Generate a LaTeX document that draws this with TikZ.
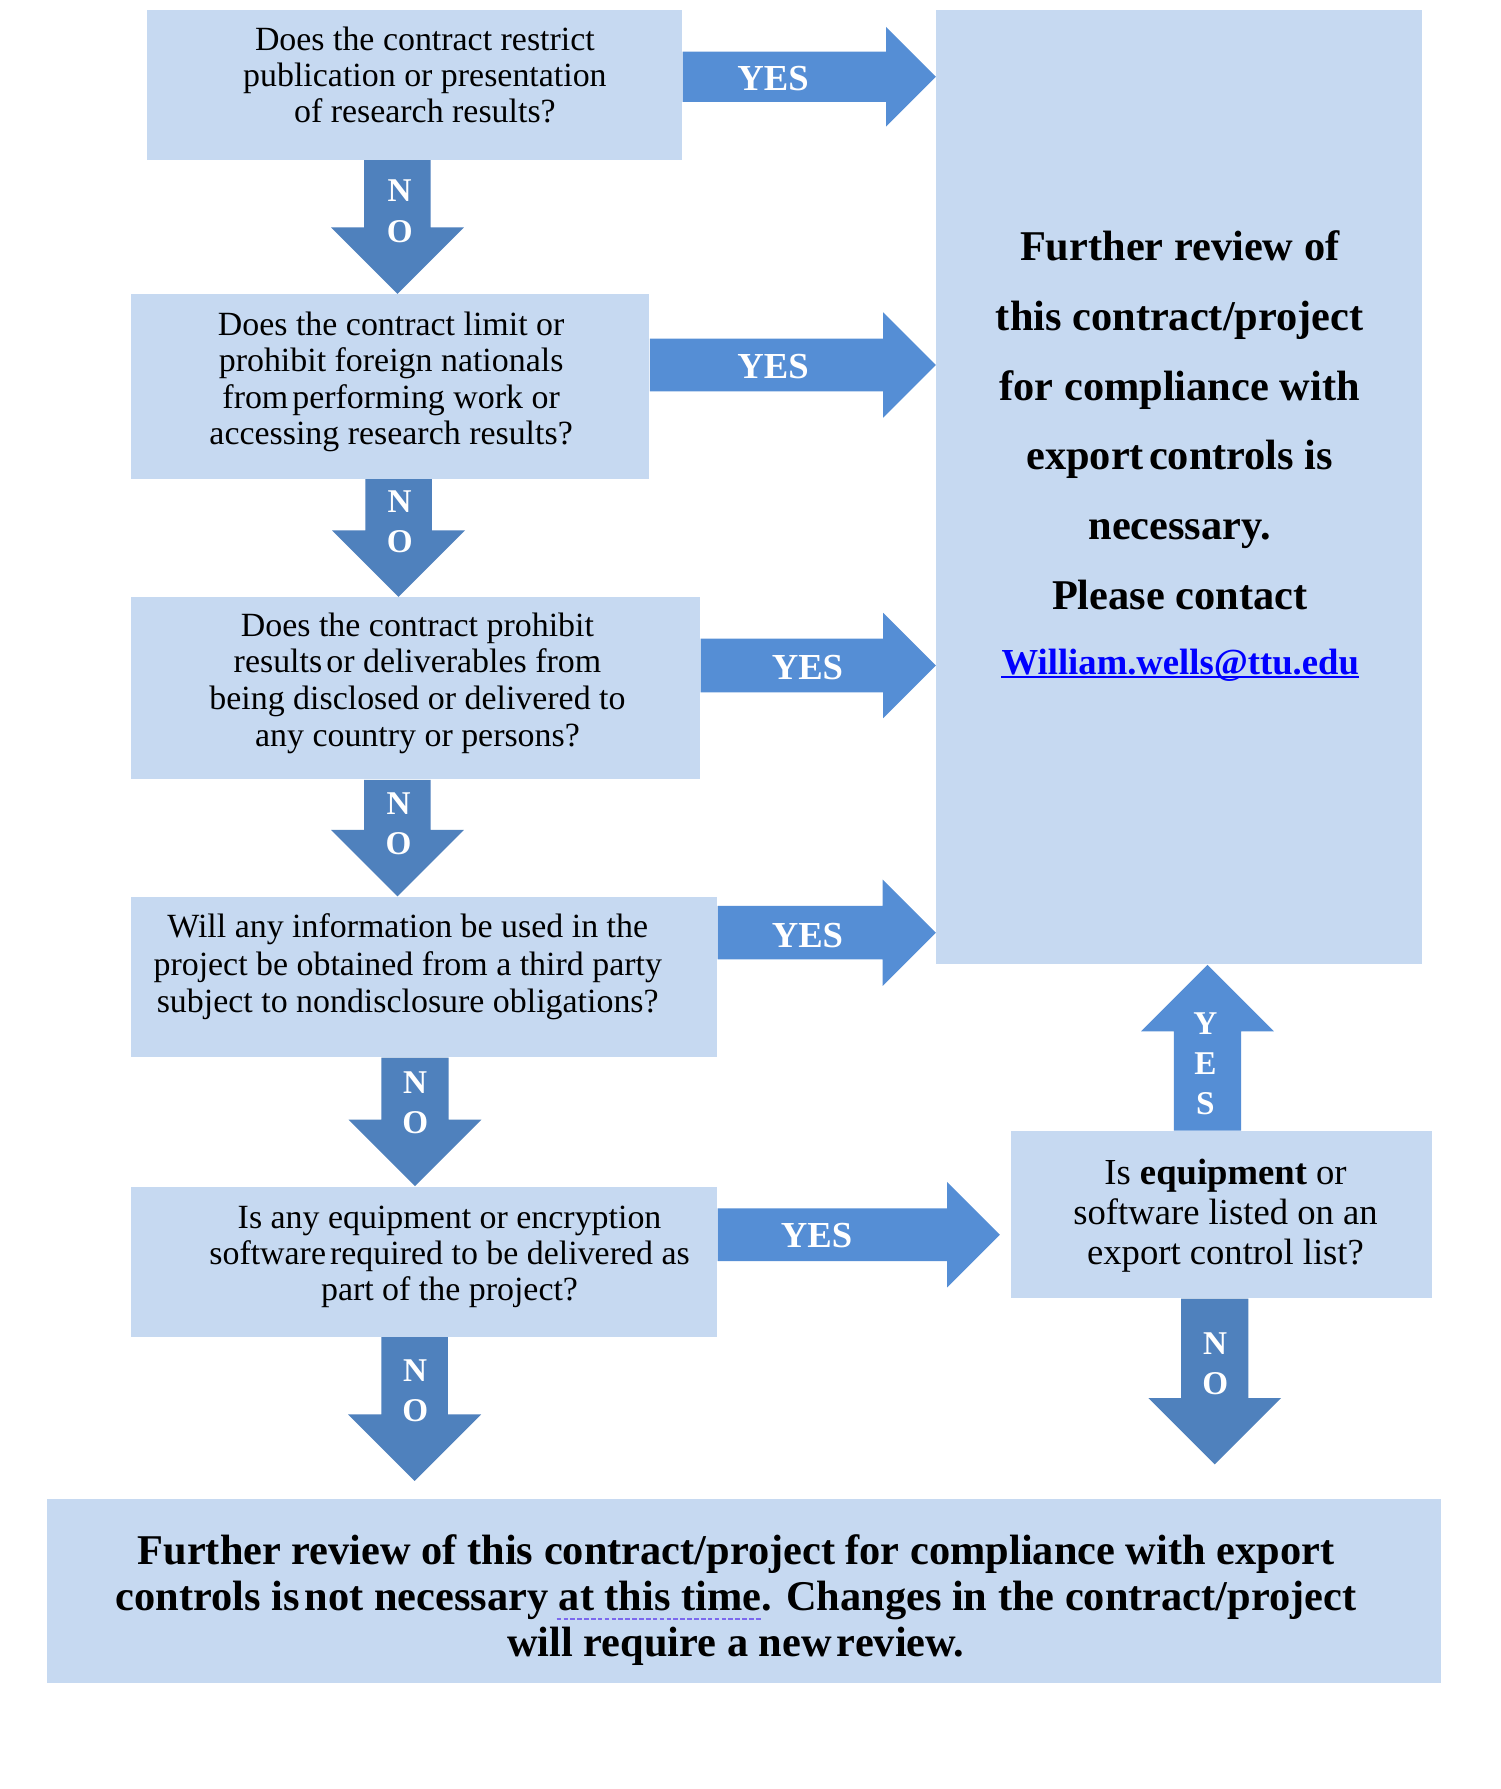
\documentclass[tikz,border=0pt]{standalone}
\usepackage{fontspec}
\setmainfont{Liberation Serif}
\usetikzlibrary{fit,calc}
\definecolor{boxc}{HTML}{C6D9F1}
\definecolor{yesc}{HTML}{558ED5}
\definecolor{noc}{HTML}{4F81BD}
\definecolor{linkc}{HTML}{0000FF}
\definecolor{dotc}{HTML}{7B68EE}
% horizontal block arrow: start, tip, shaft half, head half (=head length), style
\newcommand{\rarr}[5]{%
 \fill[#5] let \p1=(#1), \p2=(#2) in
 ({\x1},{\y1+(#3)*0.5pt}) -- ({\x2-(#4)*0.5pt},{\y1+(#3)*0.5pt}) -- ({\x2-(#4)*0.5pt},{\y1+(#4)*0.5pt}) -- ({\x2},{\y1})
 -- ({\x2-(#4)*0.5pt},{\y1-(#4)*0.5pt}) -- ({\x2-(#4)*0.5pt},{\y1-(#3)*0.5pt}) -- ({\x1},{\y1-(#3)*0.5pt}) -- cycle;}
% downward block arrow
\newcommand{\darr}[5]{%
 \fill[#5] let \p1=(#1), \p2=(#2) in
 ({\x1-(#3)*0.5pt},{\y1}) -- ({\x1-(#3)*0.5pt},{\y2+(#4)*0.5pt}) -- ({\x1-(#4)*0.5pt},{\y2+(#4)*0.5pt}) -- ({\x1},{\y2})
 -- ({\x1+(#4)*0.5pt},{\y2+(#4)*0.5pt}) -- ({\x1+(#3)*0.5pt},{\y2+(#4)*0.5pt}) -- ({\x1+(#3)*0.5pt},{\y1}) -- cycle;}
% upward block arrow
\newcommand{\uarr}[5]{%
 \fill[#5] let \p1=(#1), \p2=(#2) in
 ({\x1-(#3)*0.5pt},{\y1}) -- ({\x1-(#3)*0.5pt},{\y2-(#4)*0.5pt}) -- ({\x1-(#4)*0.5pt},{\y2-(#4)*0.5pt}) -- ({\x1},{\y2})
 -- ({\x1+(#4)*0.5pt},{\y2-(#4)*0.5pt}) -- ({\x1+(#3)*0.5pt},{\y2-(#4)*0.5pt}) -- ({\x1+(#3)*0.5pt},{\y1}) -- cycle;}
\newcommand{\tsp}{\hspace{0.12em}}
\begin{document}
\begin{tikzpicture}[x=0.5pt,y=-0.5pt,
  qbox/.style={fill=boxc, draw=none, inner sep=0pt},
  qtext/.style={inner sep=0pt, align=center, anchor=north, font=\fontsize{14.8pt}{#1pt}\selectfont},
  yeslab/.style={text=white, inner sep=0pt, font=\fontsize{16pt}{18pt}\selectfont\bfseries},
  nolab/.style={text=white, inner sep=0pt, align=center, font=\fontsize{14.5pt}{#1pt}\selectfont\bfseries}]
\fill[white] (0,0) rectangle (1310,1562);
\path[use as bounding box] (0,0) rectangle (1310,1562);

% boxes
\node[qbox, fit={(128,8.4) (595.6,139.5)}] (b1) {};
\node[qbox, fit={(114.4,257) (567,418)}] (b2) {};
\node[qbox, fit={(114.4,521.5) (611.4,680.5)}] (b3) {};
\node[qbox, fit={(114.4,783) (626.2,923)}] (b4) {};
\node[qbox, fit={(114.4,1036) (626.2,1167)}] (b5) {};
\node[qbox, fit={(817.5,8.4) (1241.7,842)}] (R) {};
\node[qbox, fit={(883,987.5) (1250.7,1133.4)}] (b6) {};
\node[qbox, fit={(41,1308.5) (1258,1469)}] (bot) {};

% connector end points
\coordinate (b6w) at ([xshift=-4.8pt]b6.west);
\coordinate (n5t) at (362,1293);
\coordinate (n6t) at (1060.6,1278.6);

% YES arrows
\rarr{b1.east |- 0,67}{R.west |- 0,67}{22}{43.5}{yesc}
\rarr{b2.east |- 0,318.7}{R.west |- 0,318.7}{23}{46}{yesc}
\rarr{b3.east |- 0,581}{R.west |- 0,581}{23.5}{46}{yesc}
\rarr{b4.east |- 0,814.3}{R.west |- 0,814.3}{23.3}{46.4}{yesc}
\rarr{b5.east |- 0,1078}{b6w |- 0,1078}{23}{46}{yesc}
\uarr{b6.north -| 1054.3,0}{R.south -| 1054.3,0}{29.3}{58}{yesc}

% NO arrows
\darr{b1.south -| 347,0}{b2.north -| 347,0}{29}{58}{noc}
\darr{b2.south -| 348,0}{b3.north -| 348,0}{29}{58}{noc}
\darr{b3.south -| 347,0}{b4.north -| 347,0}{29}{58}{noc}
\darr{b4.south -| 362.3,0}{b5.north -| 362.3,0}{29.3}{58}{noc}
\darr{b5.south -| 362,0}{n5t}{29}{58}{noc}
\darr{b6.south -| 1060.6,0}{n6t}{29.4}{58}{noc}

% arrow labels
\node[yeslab] (l1) at (675,68.5) {YES};
\node[yeslab] (l2) at (675,320) {YES};
\node[yeslab] (l3) at (705,582.6) {YES};
\node[yeslab] (l4) at (705,816.5) {YES};
\node[yeslab] (l5) at (713,1079) {YES};
\node[nolab=17.4] (lu) at (1052.5,928.75) {Y\\E\\S};
\node[nolab=17.5] (n1) at (349,184.5) {N\\O};
\node[nolab=17.5] (n2) at (349,455.5) {N\\O};
\node[nolab=17.5] (n3) at (348,719) {N\\O};
\node[nolab=17.5] (n4) at (362.5,962.7) {N\\O};
\node[nolab=17.5] (n5) at (362.5,1214) {N\\O};
\node[nolab=17.5] (n6) at (1061,1191) {N\\O};

% question texts
\node[qtext=15.75] (t1) at (371,21.45) {\strut Does the contract restrict\\publication or presentation\\of research results?};
\node[qtext=15.9] (t2) at (341.5,270.3) {\strut Does the contract limit or\\prohibit foreign nationals\\from\tsp performing work or\\accessing research results?};
\node[qtext=16] (t3) at (364.5,532.6) {\strut Does the contract prohibit\\results\tsp or deliverables from\\being disclosed or delivered to\\any country or persons?};
\node[qtext=16.3] (t4) at (356,795.5) {\strut Will any information be used in the\\project be obtained from a third party\\subject to nondisclosure obligations?};
\node[qtext=15.6] (t5) at (392.5,1050.8) {\strut Is any equipment or encryption\\software\tsp required to be delivered as\\part of the project?};
\node[inner sep=0pt, align=center, anchor=north, font=\fontsize{16pt}{17.35pt}\selectfont] (t6) at (1070,1009.7) {\strut Is \textbf{equipment} or\\software listed on an\\export control list?};

% result texts
\node[inner sep=0pt, align=center, anchor=north, font=\fontsize{18.5pt}{30.4pt}\selectfont\bfseries] (tr) at (1030,184.8) {\strut Further review of\\this contract/project\\for compliance with\\export\tsp controls is\\necessary.\\Please contact};
\node[inner sep=0pt, anchor=base, text=linkc, font=\fontsize{16pt}{18pt}\selectfont\bfseries] (mail) at (1030.5,588.6) {William.wells@ttu.edu};
\draw[linkc, line width=1pt] ([yshift=-1.2pt]mail.base west) -- ([yshift=-1.2pt]mail.base east);
\node[inner sep=0pt, align=center, anchor=north, font=\fontsize{18.5pt}{20.07pt}\selectfont\bfseries] (tb) at (642.5,1337.3) {\strut Further review of this contract/project for compliance with export\\controls is\tsp not necessary at this time. Changes in the contract/project\\will require a new\tsp review.};
\draw[dotc, line width=1.2pt, dash pattern=on 2pt off 1pt] (486,1413.5) -- (665,1413.5);
\end{tikzpicture}
\end{document}
